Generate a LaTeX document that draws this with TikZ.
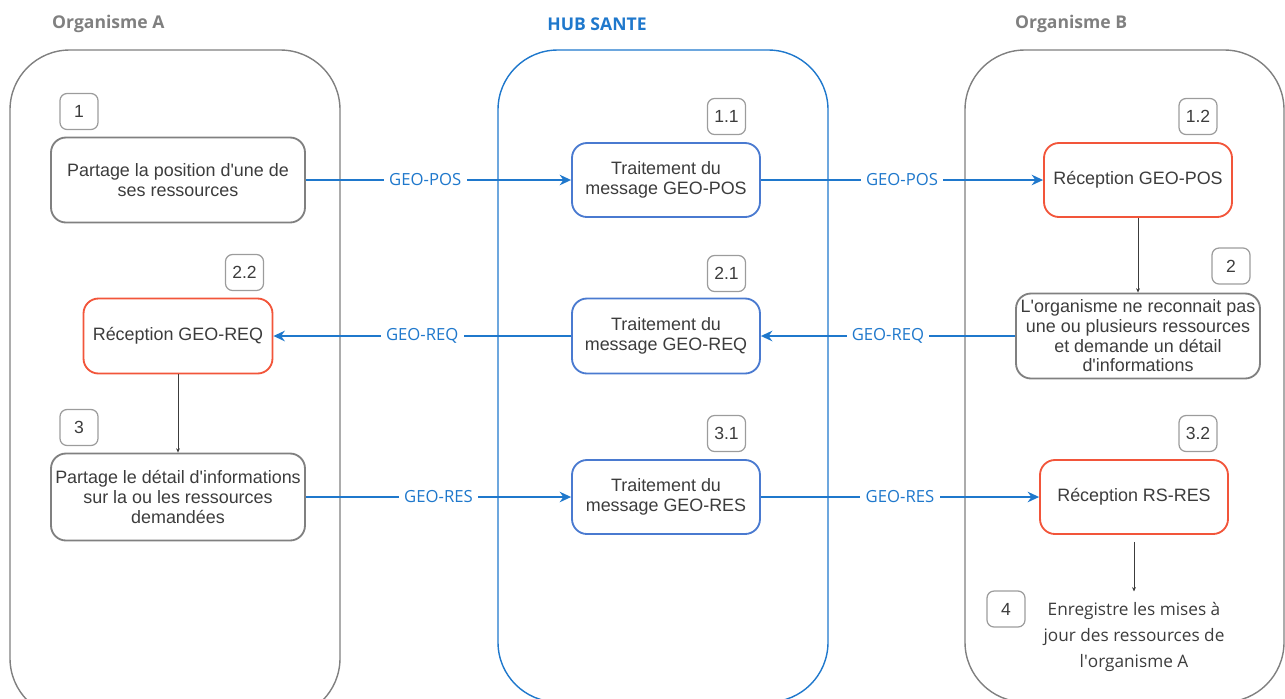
\documentclass[tikz,border=0pt]{standalone}
\usepackage{fontspec}
\setmainfont{Liberation Sans}
\newfontfamily\opensans{Open Sans}
\usetikzlibrary{arrows.meta}

\definecolor{lanegray}{HTML}{808080}
\definecolor{hubblue}{HTML}{1F78CC}
\definecolor{boxblue}{HTML}{4A7AD0}
\definecolor{recvred}{HTML}{F2553A}
\definecolor{txtgray}{HTML}{3C3C3C}
\definecolor{numgray}{HTML}{9C9C9C}

\begin{document}
\begin{tikzpicture}[x=0.02cm, y=-0.02cm, >=Stealth,
  lane/.style={draw=lanegray, line width=0.8pt, rounded corners=34pt},
  hublane/.style={lane, draw=hubblue},
  header/.style={font=\opensans\bfseries\fontsize{10}{12}\selectfont, text=lanegray},
  stepbox/.style={draw=lanegray, line width=1.05pt, rounded corners=8.5pt, align=center,
    text=txtgray, font=\fontsize{10.2}{11.2}\selectfont, inner sep=1pt},
  hubbox/.style={stepbox, draw=boxblue, minimum width=3.76cm, minimum height=1.48cm},
  recvbox/.style={stepbox, draw=recvred, minimum width=3.76cm, minimum height=1.48cm},
  numbox/.style={draw=numgray, line width=0.7pt, rounded corners=4pt, text=txtgray,
    font=\fontsize{10}{12}\selectfont, minimum width=0.76cm, minimum height=0.72cm, inner sep=0pt},
  msg/.style={draw=hubblue, line width=1.6pt, -{Stealth[length=6.5pt, width=6pt]}},
  msglabel/.style={fill=white, text=hubblue, font=\opensans\fontsize{9.5}{11}\selectfont, inner sep=3pt},
  flow/.style={draw=txtgray, line width=0.5pt, -{Stealth[length=2.5pt, width=2.2pt]}}
]

  % lignes des trois etapes
  \def\rowA{180}
  \def\rowB{336}
  \def\rowC{497}
  \def\q{\textquotesingle}

  \useasboundingbox (0,0) rectangle (1285,698);
  \clip (0,0) rectangle (1285,698);

  % 1. Couloirs
  \draw[lane] (10,50) rectangle (340,718);
  \draw[hublane] (498,50) rectangle (828,702);
  \draw[lane] (965,50) rectangle (1284,702);

  \node[header, anchor=west] (hdrA) at (46,24) {Organisme A};
  \node[header, text=hubblue] (hdrHub) at (597,24) {HUB SANTE};
  \node[header, anchor=west] (hdrB) at (1009,24) {Organisme B};

  % 2. Etape 1 : GEO-POS
  \node[stepbox, minimum width=5.08cm, minimum height=1.7cm] (partage) at (178,\rowA)
    {Partage la position d\q une de\\ ses ressources};
  \node[numbox] (n1) at (79,111.5) {1};
  \node[hubbox] (traitPos) at (666,\rowA) {Traitement du\\ message GEO-POS};
  \node[numbox] (n11) at (726.5,116.5) {1.1};
  \node[recvbox] (recPos) at (1138,\rowA) {Réception GEO-POS};
  \node[numbox] (n12) at (1198,116.5) {1.2};

  % 3. Etape 2 : GEO-REQ
  \node[stepbox, minimum width=4.88cm, minimum height=1.7cm] (demande) at (1138,\rowB)
    {L\q organisme ne reconnait pas\\ une ou plusieurs ressources\\ et demande un détail\\ d\q informations};
  \node[numbox] (n2) at (1231,266) {2};
  \node[hubbox, minimum height=1.5cm] (traitReq) at (666,\rowB) {Traitement du\\ message GEO-REQ};
  \node[numbox] (n21) at (726.5,273.5) {2.1};
  \node[recvbox, minimum width=3.78cm, minimum height=1.5cm] (recReq) at (178,\rowB) {Réception GEO-REQ};
  \node[numbox] (n22) at (244.5,272.5) {2.2};

  % 4. Etape 3 : GEO-RES
  \node[stepbox, minimum width=5.08cm, minimum height=1.74cm] (detail) at (178,\rowC)
    {Partage le détail d\q informations\\ sur la ou les ressources\\ demandées};
  \node[numbox] (n3) at (79,427.5) {3};
  \node[hubbox] (traitRes) at (666,\rowC) {Traitement du\\ message GEO-RES};
  \node[numbox] (n31) at (726.5,433.5) {3.1};
  \node[recvbox] (recRes) at (1134,\rowC) {Réception RS-RES};
  \node[numbox] (n32) at (1198,433.5) {3.2};

  % 5. Etape 4
  \node[align=center, text=txtgray, font=\opensans\fontsize{9.8}{14.8}\selectfont, inner sep=1pt]
    (enreg) at (1134,637) {Enregistre les mises à\\ jour des ressources de\\ l\q organisme A};
  \node[numbox] (n4) at (1006,609) {4};

  % 6. Messages
  \draw[msg] (partage) -- (traitPos) node[pos=0.45, msglabel] {GEO-POS};
  \draw[msg] (traitPos) -- (recPos) node[midway, msglabel] {GEO-POS};
  \draw[msg] (demande) -- (traitReq) node[midway, msglabel] {GEO-REQ};
  \draw[msg] (traitReq) -- (recReq) node[midway, msglabel] {GEO-REQ};
  \draw[msg] (detail) -- (traitRes) node[midway, msglabel] {GEO-RES};
  \draw[msg] (traitRes) -- (recRes) node[midway, msglabel] {GEO-RES};

  % enchainements internes
  \draw[flow] (recPos) -- (demande);
  \draw[flow] (recReq) -- (detail);
  \draw[flow, shorten <=4pt, shorten >=5pt] (recRes) -- (enreg);

\end{tikzpicture}
\end{document}
